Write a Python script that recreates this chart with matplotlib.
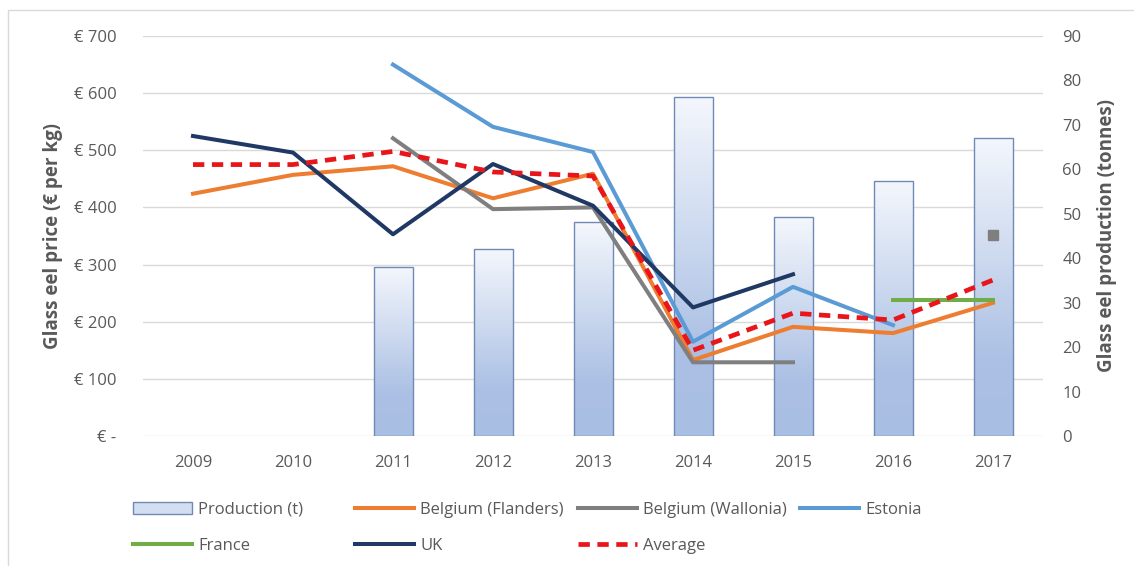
import numpy as np
import matplotlib
matplotlib.use("Agg")
import matplotlib.pyplot as plt
from matplotlib.patches import Patch, Rectangle
from matplotlib.lines import Line2D
from matplotlib.colors import LinearSegmentedColormap

plt.rcParams['font.family'] = ['Open Sans', 'DejaVu Sans']

# ---------------------------------------------------
# DATA
# ---------------------------------------------------
nan = np.nan
years = ['2009', '2010', '2011', '2012', '2013', '2014', '2015', '2016', '2017']

production = [nan, nan, 38.1, 42.0, 48.1, 76.3, 49.2, 57.4, 67.1]   # tonnes (right axis)
flanders = [424, 457, 472, 416, 459, 133, 191, 180, 233]             # € per kg
wallonia = [nan, nan, 521, 397, 400, 129, 129, nan, 352]
estonia = [nan, nan, 650, 541, 497, 165, 261, 194, nan]
france = [nan, nan, nan, nan, nan, nan, nan, 238, 238]
uk = [525, 496, 353, 476, 403, 225, 283, nan, nan]
average = [475, 475, 498, 462, 455, 150, 215, 203, 273]

price_ticks = [0, 100, 200, 300, 400, 500, 600, 700]
prod_ticks = [0, 10, 20, 30, 40, 50, 60, 70, 80, 90]

# colours
TXT = '#595959'
GRID = '#d9d9d9'
C_FLA = '#ED7D31'
C_WAL = '#7F7F7F'
C_EST = '#5B9BD5'
C_FRA = '#70AD47'
C_UK = '#203864'
C_AVG = '#E8161B'
BAR_EDGE = '#7189B6'

FS = 12
x = np.arange(len(years))

fig = plt.figure(figsize=(11.34, 5.66), dpi=100)
ax = fig.add_axes([143 / 1134, 1 - 436 / 566, 900 / 1134, 400 / 566])

# light chart border (left + top only are visible in the crop)
fig.patches.append(Rectangle((8 / 1134, -0.1), 1.2, 1 - 10 / 566 + 0.1,
                             transform=fig.transFigure, fill=False,
                             edgecolor='#d9d9d9', linewidth=1.0, zorder=0))

# --- base axis: price ticks + grid
ax.set_xlim(-0.5, len(years) - 0.5)
ax.set_ylim(0, 700)
ax.set_yticks(price_ticks)
ax.set_yticklabels(['€ -' if v == 0 else f'€ {v}' for v in price_ticks])
ax.set_xticks(x)
ax.set_xticklabels(years)
ax.grid(axis='y', color=GRID, linewidth=1.0)
ax.tick_params(axis='both', length=0, colors=TXT, labelsize=FS)
ax.tick_params(axis='y', pad=19)
ax.tick_params(axis='x', pad=14)
for s in ax.spines.values():
    s.set_visible(False)
ax.set_ylabel('Glass eel price (€ per kg)', color=TXT, fontsize=13.5,
              fontweight='bold', labelpad=8)

# --- bars on the secondary axis
axb = ax.twinx()
axb.set_zorder(ax.get_zorder() + 1)
axb.patch.set_visible(False)
axb.set_ylim(0, 90)
axb.set_yticks(prod_ticks)
axb.tick_params(axis='y', length=0, colors=TXT, labelsize=FS, pad=14)
for s in axb.spines.values():
    s.set_visible(False)
axb.set_ylabel('Glass eel production (tonnes)', color=TXT, fontsize=13.5,
               fontweight='bold', labelpad=11)

bars = axb.bar(x, production, width=0.39, facecolor='none',
               edgecolor=BAR_EDGE, linewidth=1.0, zorder=3)

grad_cmap = LinearSegmentedColormap.from_list(
    'bar_grad', [(0.0, '#A9BEE3'), (0.25, '#ABC0E4'), (1.0, '#F4F7FC')])
grad = np.linspace(0, 1, 256).reshape(-1, 1)
for rect in bars:
    h = rect.get_height()
    if not np.isfinite(h) or h == 0:
        continue
    x0 = rect.get_x()
    im = axb.imshow(grad, cmap=grad_cmap, origin='lower', aspect='auto',
                    extent=(x0, x0 + rect.get_width(), 0, h), zorder=2)
    im.set_clip_path(rect)
axb.set_xlim(-0.5, len(years) - 0.5)
axb.set_ylim(0, 90)

# --- price lines on top
axl = ax.twinx()
axl.set_zorder(axb.get_zorder() + 1)
axl.axis('off')
axl.set_xlim(-0.5, len(years) - 0.5)
axl.set_ylim(0, 700)

lw = 2.9
axl.plot(x, flanders, color=C_FLA, lw=lw, solid_joinstyle='round')
axl.plot(x, wallonia, color=C_WAL, lw=lw, solid_joinstyle='round')
axl.plot(x[-1:], wallonia[-1:], 's', color=C_WAL, ms=6.5)
axl.plot(x, estonia, color=C_EST, lw=lw, solid_joinstyle='round')
axl.plot(x, france, color=C_FRA, lw=lw)
axl.plot(x, uk, color=C_UK, lw=lw, solid_joinstyle='round')
axl.plot(x, average, color=C_AVG, lw=3.4, dashes=(2.4, 1.6))

# --- legend: four equally spaced columns like the Excel one
h_prod = Patch(facecolor='#D3DEF1', edgecolor=BAR_EDGE, linewidth=1.0)
h = {
    'Production (t)': h_prod,
    'Belgium (Flanders)': Line2D([], [], color=C_FLA, lw=lw),
    'Belgium (Wallonia)': Line2D([], [], color=C_WAL, lw=lw),
    'Estonia': Line2D([], [], color=C_EST, lw=lw),
    'France': Line2D([], [], color=C_FRA, lw=lw),
    'UK': Line2D([], [], color=C_UK, lw=lw),
    'Average': Line2D([], [], color=C_AVG, lw=3.4, dashes=(2.4, 1.6)),
}
columns = [['Production (t)', 'France'],
           ['Belgium (Flanders)', 'UK'],
           ['Belgium (Wallonia)', 'Average'],
           ['Estonia']]
col_x = [133, 355, 578, 800]
for names, cx in zip(columns, col_x):
    leg = fig.legend([h[n] for n in names], names, loc='upper left',
                     bbox_to_anchor=(cx / 1134, 1 - 502 / 566),
                     frameon=False, fontsize=FS, handlelength=3.55,
                     handletextpad=0.35, labelspacing=1.22, borderpad=0,
                     borderaxespad=0)
    for t in leg.get_texts():
        t.set_color(TXT)

fig.savefig('out.png', dpi=100)
